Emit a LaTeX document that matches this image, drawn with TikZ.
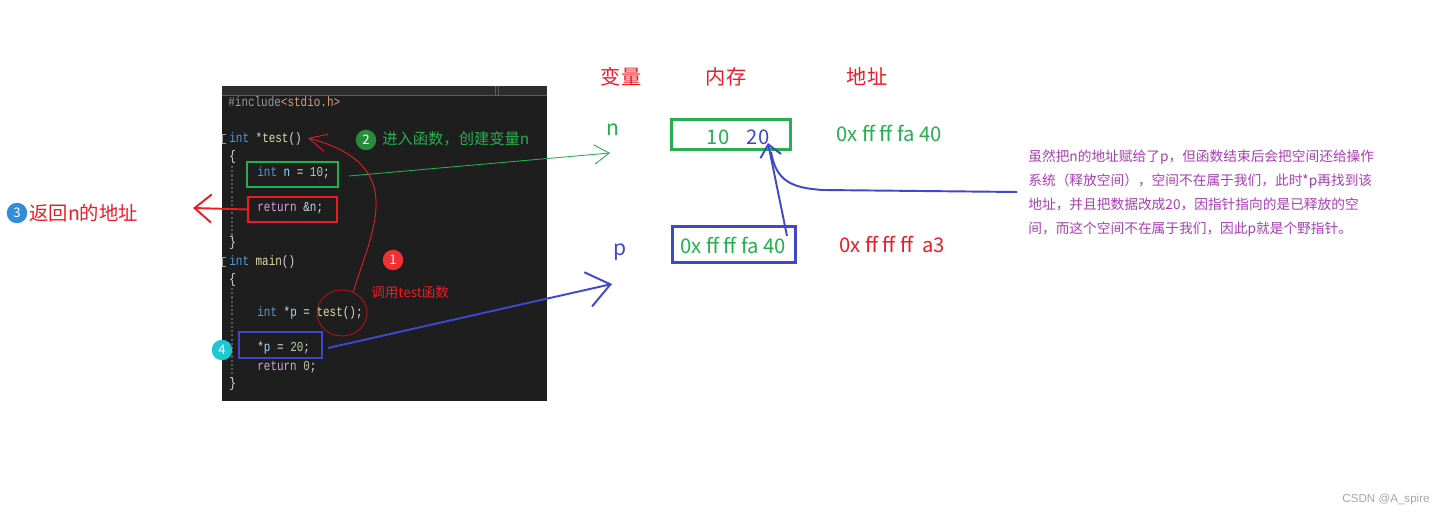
\documentclass[tikz,border=0pt]{standalone}
\usepackage{fontspec}
\setmainfont{Noto Sans CJK SC}
\setmonofont[FakeStretch=0.8]{Liberation Mono}
\newfontfamily\wmfont{Liberation Sans}
\usetikzlibrary{arrows.meta,shapes.geometric}
\definecolor{pgreen}{RGB}{34,177,76}
\definecolor{pred}{RGB}{237,28,36}
\definecolor{pblue}{RGB}{63,72,204}
\definecolor{ppurple}{RGB}{170,62,182}
\definecolor{mred}{RGB}{240,50,50}
\definecolor{mgreen}{RGB}{40,140,60}
\definecolor{mblue}{RGB}{50,140,220}
\definecolor{mcyan}{RGB}{30,200,210}
\definecolor{cbg}{RGB}{30,30,30}
\definecolor{cbar}{RGB}{45,45,48}
\definecolor{ctx}{RGB}{220,220,220}
\definecolor{ckw}{RGB}{86,156,214}
\definecolor{cfn}{RGB}{220,220,170}
\definecolor{cvar}{RGB}{156,220,254}
\definecolor{cnum}{RGB}{181,206,168}
\definecolor{cret}{RGB}{216,160,223}
\definecolor{cpre}{RGB}{155,155,155}
\definecolor{cstr}{RGB}{214,157,133}
\definecolor{cguide}{RGB}{90,90,90}
\begin{document}
\begin{tikzpicture}[x=0.02cm,y=-0.02cm,
  cl/.style={anchor=base west,inner sep=0,font=\ttfamily\fontsize{7.8}{8}\selectfont,text=ctx},
  bx/.style={draw,inner sep=0,line width=0.85pt},
  tb/.style={draw,inner sep=0,line width=1.7pt},
  mk/.style={circle,inner sep=0,minimum size=0.41cm,text=white,font=\fontsize{7.5}{8}\selectfont},
  hd/.style={text=pred,font=\fontsize{11.5}{12}\selectfont},
  vl/.style={inner sep=0,font=\fontsize{11.5}{12}\selectfont}]
\fill[white] (0,0) rectangle (1446,516);
\useasboundingbox (0,0) rectangle (1446,516);
% code panel
\fill[cbg] (222,86) rectangle (547,401);
\fill[cbar] (222,86) rectangle (547,95);
\draw[cguide] (222,95) -- (547,95);
\draw[cguide] (495,86) -- (495,95);
\draw[cguide] (498,86) -- (498,95);
\draw[cguide,dash pattern=on 1.2pt off 1.2pt,line width=0.6pt] (232,166) -- (232,238);
\draw[cguide,dash pattern=on 1.2pt off 1.2pt,line width=0.6pt] (232,288) -- (232,380);
\draw[cpre,line width=0.4pt] (226,134) -- (222.5,134) -- (222.5,143) -- (226,143);
\draw[cpre,line width=0.4pt] (226,257) -- (222.5,257) -- (222.5,266) -- (226,266);
\node[cl] (c1) at (228,107) {\textcolor{cpre}{\#include}\textcolor{cstr}{<stdio.h>}};
\node[cl] (c2) at (229,143) {\textcolor{ckw}{int} *\textcolor{cfn}{test}()};
\node[cl] (c3) at (229,161) {\{};
\node[cl] (c4) at (257,177) {\textcolor{ckw}{int} \textcolor{cvar}{n} = \textcolor{cnum}{10};};
\node[cl] (c5) at (257,212) {\textcolor{cret}{return} \&\textcolor{cvar}{n};};
\node[cl] (c6) at (229,247) {\}};
\node[cl] (c7) at (229,266) {\textcolor{ckw}{int} \textcolor{cfn}{main}()};
\node[cl] (c8) at (229,284) {\{};
\node[cl] (c9) at (257,317) {\textcolor{ckw}{int} *\textcolor{cvar}{p} = \textcolor{cfn}{test}();};
\node[cl] (c10) at (257,352) {*\textcolor{cvar}{p} = \textcolor{cnum}{20};};
\node[cl] (c11) at (257,371) {\textcolor{cret}{return} \textcolor{cnum}{0};};
\node[cl] (c12) at (229,388) {\}};
% marks on the code
\node[bx,draw=pgreen,minimum width=1.82cm,minimum height=0.5cm] (bn) at (292.5,174.5) {};
\node[bx,draw=pred,minimum width=1.78cm,minimum height=0.5cm] (br) at (292.5,209.5) {};
\node[bx,draw=pblue,minimum width=1.66cm,minimum height=0.52cm] (bp) at (280.5,345) {};
\node[ellipse,draw=pred!75!black,line width=0.5pt,inner sep=0,minimum width=1cm,minimum height=0.92cm] (ring) at (342,313) {};
\node[mk,fill=mred] (m1) at (393,260) {1};
\node[mk,fill=mgreen] (m2) at (366,140) {2};
\node[mk,fill=mblue] (m3) at (17,213) {3};
\node[mk,fill=mcyan] (m4) at (222,350) {4};
\node[anchor=west,inner sep=0,text=pgreen,font=\fontsize{8.7}{9}\selectfont] (t2) at (382,139) {进入函数，创建变量n};
\node[anchor=west,inner sep=0,text=pred,font=\fontsize{7.7}{8}\selectfont] (t1) at (371,292) {调用test函数};
\node[anchor=west,inner sep=0,text=pred,font=\fontsize{11}{12}\selectfont] (t3) at (29,213) {返回n的地址};
% table
\node[hd] (h1) at (621,77) {变量};
\node[hd] (h2) at (726,77) {内存};
\node[hd] (h3) at (867,77) {地址};
\node[vl,text=pgreen,font=\fontsize{12}{12}\selectfont] (vn) at (613,130) {n};
\node[vl,text=pblue,font=\fontsize{12}{12}\selectfont] (vp) at (620,252) {p};
\node[tb,draw=pgreen,minimum width=2.38cm,minimum height=0.6cm] (mn) at (731,134.5) {};
\node[tb,draw=pblue,minimum width=2.46cm,minimum height=0.72cm] (mp) at (734,244.5) {};
\node[vl,text=pgreen] (n10) at (718,137) {10};
\node[vl,text=pblue] (n20) at (758,137) {20};
\node[vl,text=pgreen] (pv) at (733,245) {0x ff ff fa 40};
\node[vl,text=pgreen] (an) at (889,133) {0x ff ff fa 40};
\node[vl,text=pred] (ap) at (892,244) {0x ff ff ff\ \ a3};
\node[anchor=west,align=left,inner sep=0,text=ppurple,font=\fontsize{7.8}{13.6}\selectfont] (note) at (1028,193)
  {虽然把n的地址赋给了p，但函数结束后会把空间还给操作\\
   系统（释放空间），空间不在属于我们，此时*p再找到该\\
   地址，并且把数据改成20，因指针指向的是已释放的空\\
   间，而这个空间不在属于我们，因此p就是个野指针。};
\node[text=black!35,inner sep=0,font=\wmfont\fontsize{6.6}{7}\selectfont] (wm) at (1386,500) {CSDN @A\_spire};
% connectors
\coordinate (g0) at (349,176);
\coordinate (g1) at (610,153);
\coordinate (r1) at (193,208);
\coordinate (b0) at (328,348);
\coordinate (b1) at (612,284);
\coordinate (q0) at (787,236);
\coordinate (q1) at (768,143);
\coordinate (s0) at (1017,192);
\coordinate (k1) at (308,138);
\draw[pgreen,line width=0.5pt,-{Straight Barb[length=8.5pt,width=11pt]}] (g0) -- (g1);
\draw[pred,line width=1.1pt,-{Straight Barb[length=9.6pt,width=16pt]}] (br.west) -- (r1);
\draw[pblue,line width=1.1pt,-{Straight Barb[length=13pt,width=20pt]}] (b0) -- (b1);
\draw[pblue,line width=1.1pt,-{Straight Barb[length=6.8pt,width=12pt]}] (q0) -- (q1);
\draw[pblue,line width=1.1pt] (s0) -- (823,190) .. controls (790,188) and (776,180) .. (771,152);
\draw[pred,line width=0.5pt,-{Straight Barb[length=10pt,width=10pt]}] (ring.62) .. controls (372,230) and (410,165) .. (k1);
\end{tikzpicture}
\end{document}
